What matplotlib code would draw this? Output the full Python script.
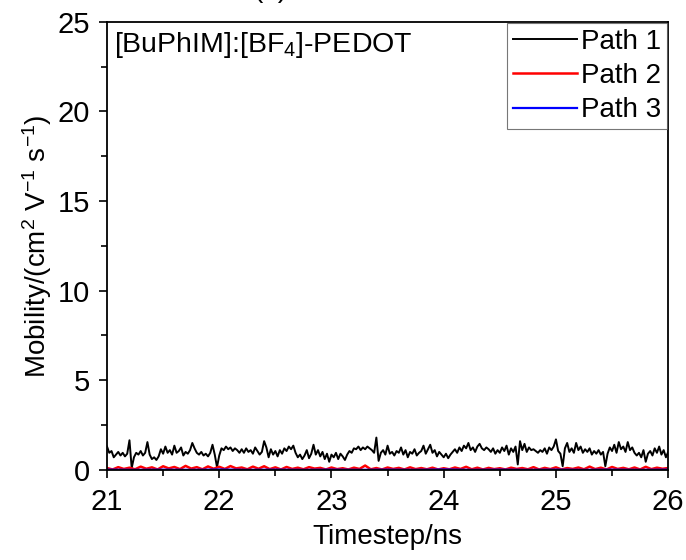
import numpy as np
import matplotlib
matplotlib.use("Agg")
import matplotlib.pyplot as plt
from matplotlib.ticker import MultipleLocator

plt.rcParams['font.family'] = ['Liberation Sans', 'DejaVu Sans']
plt.rcParams['mathtext.fontset'] = 'custom'
plt.rcParams['mathtext.rm'] = 'Liberation Sans'
plt.rcParams['mathtext.it'] = 'Liberation Sans'

# Path 1 (black), one value every 0.02 ns from 21 to 26
path1 = [
    1.30, 0.95, 1.05, 0.70, 0.85, 1.00, 0.80, 0.95, 0.75, 0.90,
    1.65, 0.10, 0.70, 0.95, 0.85, 1.05, 0.80, 0.95, 1.55, 0.85,
    0.60, 0.70, 0.55, 0.75, 1.15, 0.90, 1.30, 0.95, 1.10, 0.85,
    1.35, 0.95, 1.05, 1.25, 0.80, 1.00, 0.90, 1.10, 1.50, 1.20,
    0.95, 0.85, 1.00, 0.80, 0.90, 0.75, 0.95, 1.40, 0.85, 0.15,
    0.80, 1.20, 1.10, 1.30, 1.15, 1.25, 1.05, 1.20, 1.10, 0.95,
    1.15, 0.95, 1.20, 1.00, 1.10, 0.90, 1.25, 1.05, 0.85, 1.00,
    1.60, 1.25, 0.70, 1.15, 0.85, 1.05, 0.75, 1.10, 0.90, 1.20,
    1.05, 1.30, 1.15, 1.35, 0.95, 0.70, 0.85, 0.60, 0.80, 1.10,
    0.65, 0.90, 1.40, 0.85, 1.10, 0.75, 1.00, 0.60, 0.90, 0.45,
    0.85, 0.70, 0.95, 0.60, 0.90, 0.75, 0.55, 0.85, 1.05, 0.95,
    1.20, 1.15, 1.30, 1.10, 1.25, 1.15, 1.30, 1.20, 1.10, 0.95,
    1.80, 0.50, 0.95, 1.10, 0.85, 1.35, 0.90, 1.00, 0.80, 1.05,
    0.95, 1.25, 0.85, 1.10, 0.70, 1.00, 0.90, 1.15, 0.80, 0.95,
    1.05, 1.35, 0.90, 1.15, 1.40, 0.95, 1.10, 0.75, 1.00, 0.85,
    0.70, 0.90, 0.65, 0.85, 1.00, 1.15, 0.95, 1.25, 1.05, 1.35,
    1.20, 1.50, 1.10, 1.25, 1.00, 1.30, 1.45, 1.20, 1.10, 1.25,
    1.15, 1.00, 1.20, 0.90, 1.10, 0.95, 1.25, 1.05, 1.35, 0.85,
    1.20, 1.00, 1.30, 0.30, 1.60, 1.10, 1.45, 1.00, 1.25, 1.10,
    1.15, 1.05, 0.95, 1.10, 1.00, 1.20, 0.90, 1.25, 1.10, 1.30,
    1.70, 1.05, 0.90, 0.20, 1.20, 1.50, 1.00, 1.20, 0.95, 1.50,
    1.10, 1.30, 0.95, 1.15, 1.00, 1.20, 0.85, 1.05, 0.90, 1.10,
    0.85, 1.00, 0.20, 0.90, 1.25, 1.05, 1.40, 0.95, 1.55, 1.15,
    1.30, 1.00, 1.55, 1.10, 1.25, 0.95, 0.80, 0.95, 0.70, 1.10,
    0.45, 0.90, 1.05, 0.80, 1.20, 0.95, 1.30, 0.85, 1.10, 0.70,
    1.00,
]
t1 = np.linspace(21, 26, len(path1))

# Path 2 (red), one value every 0.05 ns
path2 = [
    0.10, 0.02, 0.15, 0.05, 0.12, 0.03, 0.18, 0.06, 0.14, 0.02,
    0.20, 0.08, 0.16, 0.04, 0.22, 0.07, 0.15, 0.03, 0.19, 0.06,
    0.17, 0.05, 0.21, 0.08, 0.13, 0.03, 0.18, 0.06, 0.20, 0.04,
    0.14, 0.02, 0.16, 0.05, 0.12, 0.03, 0.15, 0.07, 0.11, 0.02,
    0.13, 0.04, 0.09, 0.02, 0.12, 0.05, 0.24, 0.03, 0.10, 0.02,
    0.13, 0.05, 0.11, 0.02, 0.14, 0.04, 0.10, 0.03, 0.12, 0.02,
    0.09, 0.03, 0.13, 0.05, 0.17, 0.03, 0.12, 0.02, 0.11, 0.04,
    0.09, 0.02, 0.12, 0.05, 0.10, 0.03, 0.15, 0.02, 0.11, 0.04,
    0.14, 0.02, 0.10, 0.05, 0.13, 0.03, 0.18, 0.04, 0.12, 0.02,
    0.16, 0.05, 0.11, 0.03, 0.13, 0.02, 0.17, 0.04, 0.12, 0.06,
    0.10,
]
t2 = np.linspace(21, 26, len(path2))

# Path 3 (blue), practically zero
path3 = [0.01, 0.0, 0.01, 0.0, 0.02, 0.0, 0.01, 0.0, 0.01, 0.0,
         0.01, 0.0, 0.02, 0.0, 0.01, 0.0, 0.01, 0.0, 0.01, 0.0, 0.01]
t3 = np.linspace(21, 26, len(path3))

fig = plt.figure(figsize=(6.86, 5.6), dpi=100)
ax = fig.add_axes([0.156, 0.161, 0.818, 0.800])

ax.plot(t1, path1, color='black', lw=1.4, label='Path 1')
ax.plot(t2, path2, color='#ff0000', lw=1.8, label='Path 2')
ax.plot(t3, path3, color='#0000ff', lw=1.6, label='Path 3')

ax.set_xlim(21, 26)
ax.set_ylim(0, 25)
ax.xaxis.set_major_locator(MultipleLocator(1))
ax.xaxis.set_minor_locator(MultipleLocator(0.5))
ax.yaxis.set_major_locator(MultipleLocator(5))
ax.yaxis.set_minor_locator(MultipleLocator(2.5))
ax.tick_params(which='both', direction='out', top=False, right=False, width=1.2)
ax.tick_params(which='major', length=6, labelsize=21)
ax.tick_params(axis='x', which='major', pad=7)
ax.tick_params(axis='y', which='major', pad=6)
ax.tick_params(which='minor', length=4)
for s in ax.spines.values():
    s.set_linewidth(1.3)

ax.set_xlabel('Timestep/ns', fontsize=20, labelpad=6)
ax.set_ylabel('Mobility/(cm$^2$ V$^{-1}$ s$^{-1}$)', fontsize=20, labelpad=3)

ax.text(0.012, 0.948, '[BuPhIM]:[BF$_4$]-PEDOT', transform=ax.transAxes,
        fontsize=20.5, ha='left', va='center')

leg = ax.legend(loc='upper right', fontsize=20, frameon=True, fancybox=False,
                handlelength=2.3, handletextpad=0.15, borderpad=0.2,
                labelspacing=0.3, borderaxespad=0.05)
leg.get_frame().set_edgecolor('#555555')
leg.get_frame().set_linewidth(0.8)

fig.text(270 / 686, 1 + 3 / 560, '(a)', ha='center', va='baseline', fontsize=20)

fig.savefig('out.png', dpi=100)
